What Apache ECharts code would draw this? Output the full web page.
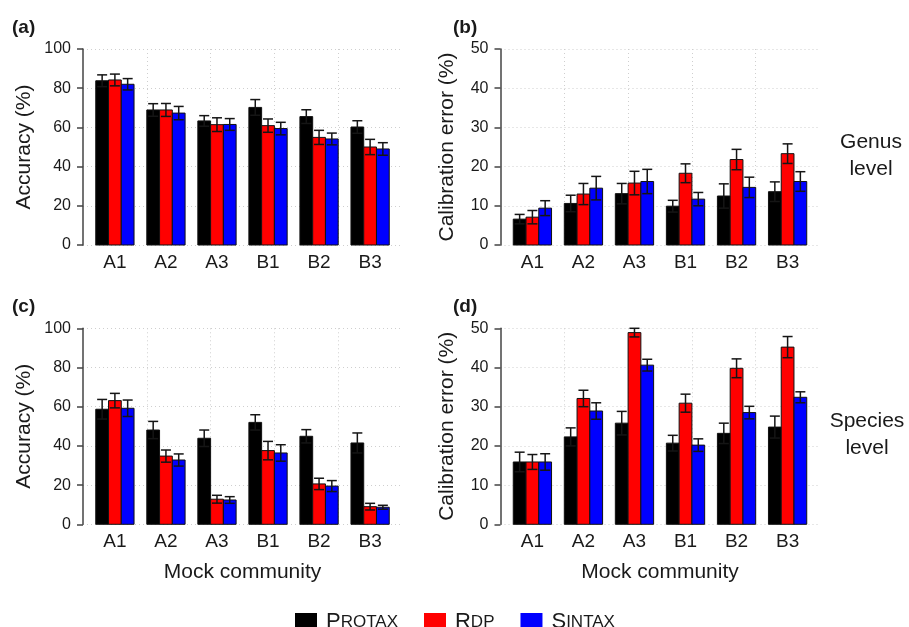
<!DOCTYPE html>
<html>
<head>
<meta charset="utf-8">
<script src="https://cdn.jsdelivr.net/npm/echarts@6/dist/echarts.min.js"></script>
<style>
  html, body { margin: 0; padding: 0; background: #fff; }
</style>
</head>
<body>
<div id="myChart" style="width:909px;height:627px;"></div>
<script>
// mock communities
var communities = ['A1', 'A2', 'A3', 'B1', 'B2', 'B3'];
var methods = ['Protax', 'RDP', 'Sintax'];

// (a) genus level accuracy (%)
var genusAccProtax = [83.8, 68.9, 63.3, 70.2, 65.5, 60.2];
var genusAccRdp    = [84.2, 68.9, 61.4, 60.9, 54.9, 50.0];
var genusAccSintax = [82.0, 67.3, 61.5, 59.4, 54.1, 49.0];
var genusAccProtaxErr = [3.0, 3.2, 2.7, 4.0, 3.5, 3.2];
var genusAccRdpErr    = [3.0, 3.3, 3.5, 3.4, 3.6, 3.9];
var genusAccSintaxErr = [2.9, 3.4, 3.0, 3.2, 3.0, 3.2];

// (b) genus level calibration error (%)
var genusCalProtax = [6.6, 10.6, 13.1, 9.9, 12.5, 13.6];
var genusCalRdp    = [7.1, 13.0, 15.8, 18.3, 21.8, 23.3];
var genusCalSintax = [9.4, 14.5, 16.2, 11.7, 14.7, 16.2];
var genusCalProtaxErr = [1.2, 2.1, 2.6, 1.5, 3.1, 2.5];
var genusCalRdpErr    = [1.7, 2.7, 3.0, 2.4, 2.6, 2.5];
var genusCalSintaxErr = [1.9, 3.0, 3.1, 1.7, 2.6, 2.5];

// (c) species level accuracy (%)
var speciesAccProtax = [58.7, 48.1, 43.9, 52.0, 44.9, 41.5];
var speciesAccRdp    = [63.1, 34.8, 12.8, 37.6, 20.6, 9.0];
var speciesAccSintax = [59.2, 32.8, 12.4, 36.4, 19.5, 8.7];
var speciesAccProtaxErr = [5.0, 4.4, 4.2, 3.9, 3.4, 5.1];
var speciesAccRdpErr    = [3.7, 3.1, 2.0, 4.7, 2.9, 1.7];
var speciesAccSintaxErr = [4.2, 3.1, 1.7, 4.2, 2.8, 1.0];

// (d) species level calibration error (%)
var speciesCalProtax = [15.9, 22.3, 25.8, 20.7, 23.2, 24.8];
var speciesCalRdp    = [15.9, 32.1, 48.9, 30.9, 39.8, 45.2];
var speciesCalSintax = [15.9, 28.9, 40.6, 20.2, 28.5, 32.4];
var speciesCalProtaxErr = [2.5, 2.3, 3.0, 2.0, 2.6, 2.8];
var speciesCalRdpErr    = [1.9, 2.1, 1.1, 2.3, 2.4, 2.7];
var speciesCalSintaxErr = [2.1, 2.1, 1.5, 1.6, 1.6, 1.4];

// y axis ticks
var accTicks = [0, 20, 40, 60, 80, 100];
var calTicks = [0, 10, 20, 30, 40, 50];

var colors = ['#000000', '#ff0000', '#0000ff'];
var textColor = '#1a1a1a';
var fontFam = '"Liberation Sans", Arial, sans-serif';

var panels = [
    { grid: { left: 83, top: 49, width: 319, height: 196 }, ticks: accTicks, yName: 'Accuracy (%)', nameGap: 48, xName: '',
      vals: [genusAccProtax, genusAccRdp, genusAccSintax], errs: [genusAccProtaxErr, genusAccRdpErr, genusAccSintaxErr] },
    { grid: { left: 500.5, top: 49, width: 319, height: 196 }, ticks: calTicks, yName: 'Calibration error (%)', nameGap: 43, xName: '',
      vals: [genusCalProtax, genusCalRdp, genusCalSintax], errs: [genusCalProtaxErr, genusCalRdpErr, genusCalSintaxErr] },
    { grid: { left: 83, top: 328.3, width: 319, height: 196 }, ticks: accTicks, yName: 'Accuracy (%)', nameGap: 48, xName: 'Mock community',
      vals: [speciesAccProtax, speciesAccRdp, speciesAccSintax], errs: [speciesAccProtaxErr, speciesAccRdpErr, speciesAccSintaxErr] },
    { grid: { left: 500.5, top: 328.3, width: 319, height: 196 }, ticks: calTicks, yName: 'Calibration error (%)', nameGap: 43, xName: 'Mock community',
      vals: [speciesCalProtax, speciesCalRdp, speciesCalSintax], errs: [speciesCalProtaxErr, speciesCalRdpErr, speciesCalSintaxErr] }
];

// group i occupies units 4i+1 .. 4i+4 (like R barplot beside, space=c(0,1))
var labelPos = communities.map(function (c, i) { return 4 * i + 2.5; });

function renderBar(params, api) {
    var x = api.value(0), v = api.value(1), e = api.value(2);
    var p0 = api.coord([x - 0.5, 0]);
    var p1 = api.coord([x + 0.5, v]);
    var top = api.coord([x, v + e]);
    var bot = api.coord([x, v - e]);
    var cap = 5;
    var errStyle = { stroke: '#151515', lineWidth: 1.5 };
    return {
        type: 'group',
        children: [
            { type: 'rect', shape: { x: p0[0], y: p1[1], width: p1[0] - p0[0], height: p0[1] - p1[1] },
              style: { fill: api.visual('color'), stroke: '#111', lineWidth: 1 } },
            { type: 'line', z2: 5, shape: { x1: top[0], y1: top[1], x2: bot[0], y2: bot[1] }, style: errStyle },
            { type: 'line', z2: 5, shape: { x1: top[0] - cap, y1: top[1], x2: top[0] + cap, y2: top[1] }, style: errStyle },
            { type: 'line', z2: 5, shape: { x1: bot[0] - cap, y1: bot[1], x2: bot[0] + cap, y2: bot[1] }, style: errStyle }
        ]
    };
}

var grids = [], xAxes = [], yAxes = [], series = [];
panels.forEach(function (p, k) {
    grids.push(p.grid);
    xAxes.push({
        type: 'value', gridIndex: k, min: 0, max: 25, interval: 5,
        name: p.xName, nameLocation: 'middle', nameGap: 37,
        nameTextStyle: { fontSize: 21, color: textColor, fontFamily: fontFam },
        axisLine: { show: false }, axisTick: { show: false },
        axisLabel: {
            customValues: labelPos, margin: 8, fontSize: 19, color: textColor, fontFamily: fontFam,
            formatter: function (v) { return communities[Math.round((v - 2.5) / 4)]; }
        },
        splitLine: { show: true, showMinLine: false, showMaxLine: false,
            lineStyle: { color: '#cfcfcf', type: [1, 3], width: 1 } }
    });
    yAxes.push({
        type: 'value', gridIndex: k, min: 0, max: p.ticks[p.ticks.length - 1], interval: p.ticks[1] - p.ticks[0],
        name: p.yName, nameLocation: 'middle', nameGap: p.nameGap,
        nameTextStyle: { fontSize: 21, color: textColor, fontFamily: fontFam },
        axisLine: { show: true, lineStyle: { color: '#444', width: 1.5 } },
        axisTick: { show: true, length: 6, lineStyle: { color: '#444', width: 1.5 } },
        axisLabel: { margin: 12, fontSize: 16, color: textColor, fontFamily: fontFam },
        splitLine: { show: true, lineStyle: { color: '#cfcfcf', type: [1, 3], width: 1 } }
    });
    methods.forEach(function (m, j) {
        var data = communities.map(function (c, i) {
            return [4 * i + 1.5 + j, p.vals[j][i], p.errs[j][i]];
        });
        series.push({
            type: 'custom', name: m, xAxisIndex: k, yAxisIndex: k,
            itemStyle: { color: colors[j] },
            renderItem: renderBar, data: data, silent: true
        });
    });
});

var chart = echarts.init(document.getElementById('myChart'));
chart.setOption({
    backgroundColor: '#fff',
    animation: false,
    color: colors,
    title: [
        { text: '(a)', left: 7, top: 13, textStyle: { fontSize: 19, fontWeight: 'bold', color: textColor, fontFamily: fontFam } },
        { text: '(b)', left: 448, top: 13, textStyle: { fontSize: 19, fontWeight: 'bold', color: textColor, fontFamily: fontFam } },
        { text: '(c)', left: 7, top: 292, textStyle: { fontSize: 19, fontWeight: 'bold', color: textColor, fontFamily: fontFam } },
        { text: '(d)', left: 448, top: 292, textStyle: { fontSize: 19, fontWeight: 'bold', color: textColor, fontFamily: fontFam } },
        { text: 'Genus\nlevel', left: 866, top: 124, textAlign: 'center',
          textStyle: { fontSize: 21, fontWeight: 'normal', lineHeight: 27, color: textColor, fontFamily: fontFam } },
        { text: 'Species\nlevel', left: 862, top: 403, textAlign: 'center',
          textStyle: { fontSize: 21, fontWeight: 'normal', lineHeight: 27, color: textColor, fontFamily: fontFam } }
    ],
    legend: {
        data: methods, left: 290, top: 606, icon: 'rect', itemWidth: 22, itemHeight: 18, itemGap: 26,
        selectedMode: false,
        formatter: function (name) {
            if (name === 'Protax') return '{g|}{b|P}{s|ROTAX}';
            if (name === 'RDP') return '{g|}{b|R}{s|DP}';
            return '{g|}{b|S}{s|INTAX}';
        },
        textStyle: {
            color: textColor, fontFamily: fontFam,
            rich: {
                g: { width: 4 },
                b: { fontSize: 22, color: textColor, fontFamily: fontFam },
                s: { fontSize: 17, color: textColor, fontFamily: fontFam }
            }
        }
    },
    grid: grids,
    xAxis: xAxes,
    yAxis: yAxes,
    series: series
});
</script>
</body>
</html>
